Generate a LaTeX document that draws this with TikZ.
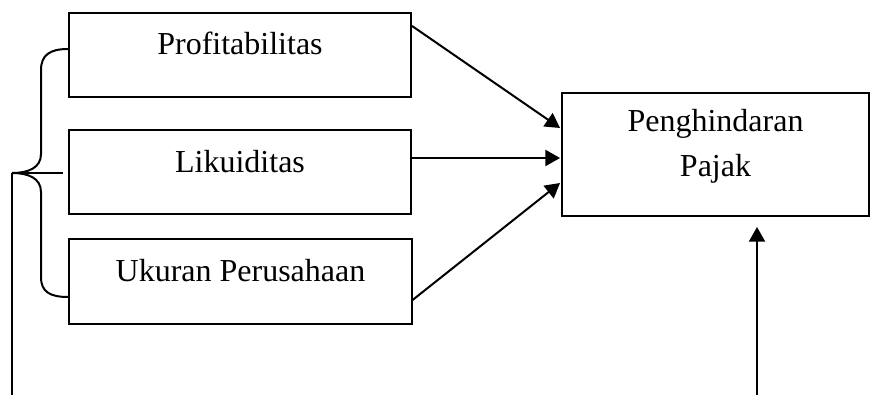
\documentclass[tikz,border=0pt]{standalone}
\usepackage{fontspec}
\setmainfont{Liberation Serif}
\usetikzlibrary{arrows.meta}

\begin{document}
\begin{tikzpicture}[->,>={Triangle[length=5.5pt,width=6pt]},x=0.375pt,y=0.375pt,line width=0.75pt,
      var node/.style={rectangle,draw,minimum width=128.3pt,minimum height=31.5pt,text height=7pt,text depth=7pt,font=\fontsize{12pt}{17pt}\selectfont},
      dep node/.style={rectangle,draw,minimum width=115.1pt,minimum height=46.1pt,align=center,text depth=8.6pt,font=\fontsize{12pt}{17pt}\selectfont}]

      \useasboundingbox (0,0) rectangle (876,-395);

      \node[var node] (P) at (240,-55) {Profitabilitas};
      \node[var node] (L) at (240,-172.5) {Likuiditas};
      \node[var node] (U) at (240.5,-281.5) {Ukuran Perusahaan};
      \node[dep node] (T) at (715.5,-154.5) {Penghindaran\\Pajak};

      \coordinate (tip) at (12,-173);
      \coordinate (tipend) at (63,-173);
      \coordinate (lbot) at (12,-395);
      \coordinate (rbot) at (757,-395);

      % brace round the three variables
      \draw[-] ([shift={(0,6)}]P.west) .. controls (50,-49) and (41,-55) .. (41,-70) -- (41,-154)
        .. controls (41,-168) and (28,-173) .. (tip) .. controls (28,-173) and (41,-178) .. (41,-192)
        -- (41,-277) .. controls (41,-292) and (50,-297) .. ([shift={(0,-15.5)}]U.west);
      \draw[-] (tip) -- (tipend);
      \draw[-] (tip) -- (lbot);

      \draw ([shift={(0,29)}]P.east) -- ([shift={(-1,26.5)}]T.west);
      \draw ([shift={(0,14.5)}]L.east) -- ([shift={(-1,-3.5)}]T.west);
      \draw ([shift={(0,-18.5)}]U.east) -- ([shift={(-1,-28.5)}]T.west);
      \draw (rbot) -- ([shift={(41.5,-10)}]T.south);
    \end{tikzpicture}
\end{document}
